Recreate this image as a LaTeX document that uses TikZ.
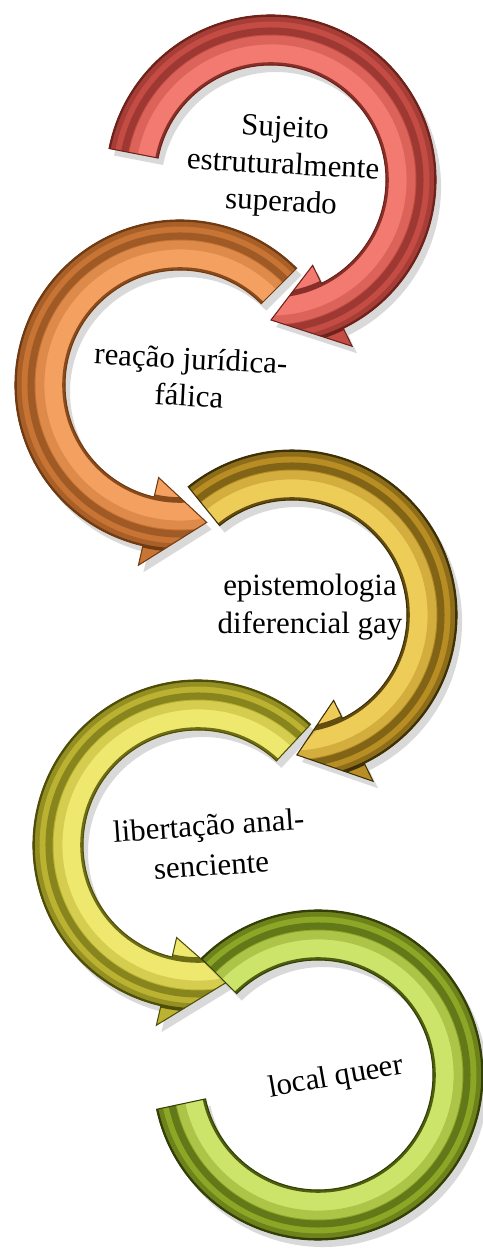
\documentclass[tikz,border=0pt]{standalone}
\usepackage{fontspec}
\setmainfont{Liberation Serif}
\usepackage{xcolor}
\usepackage{tikz}

\definecolor{redDark}{HTML}{6E221C}
\definecolor{redBase}{HTML}{C44C44}
\definecolor{redLight}{HTML}{F27A70}
\definecolor{orangeDark}{HTML}{703A12}
\definecolor{orangeBase}{HTML}{C87434}
\definecolor{orangeLight}{HTML}{F4A060}
\definecolor{goldDark}{HTML}{3E3006}
\definecolor{goldBase}{HTML}{B88E24}
\definecolor{goldLight}{HTML}{EECC58}
\definecolor{yellowDark}{HTML}{4E4E08}
\definecolor{yellowBase}{HTML}{BAB230}
\definecolor{yellowLight}{HTML}{EEE86E}
\definecolor{greenDark}{HTML}{323F06}
\definecolor{greenBase}{HTML}{8CA626}
\definecolor{greenLight}{HTML}{CCE46A}

\newcommand{\arrowshape}[3]{(#1:1.15) arc[start angle=#1, end angle=#2, radius=1.15]
-- (#2:0.95) -- (#3:1.4) -- (#2:1.85) -- (#2:1.65) arc[start angle=#2, end angle=#1, radius=1.65] -- cycle}

\newcommand{\ringbands}[1]{%
\fill[#1Base] (0,0) circle (2);
\fill[#1Light] (0,0) circle (1.40);
\draw[#1Base!50!#1Light, line width=2.5pt] (0,0) circle (1.40);
\draw[#1Dark!45!#1Base, line width=2pt] (0,0) circle (1.49);
\draw[#1Dark!35!#1Base, line width=2pt] (0,0) circle (1.62);
\draw[#1Dark, line width=1pt] (0,0) circle (1.65);
\draw[#1Dark!70!#1Base, line width=1.6pt] (0,0) circle (1.15);}

\newcommand{\ringarrow}[5]{%
\begin{scope}[shift={#1}]
\begin{scope}[shift={(0.05,-0.07)}]
\fill[ringshadow] \arrowshape{#2}{#3}{#4};
\end{scope}
\begin{scope}
\clip \arrowshape{#2}{#3}{#4};
\ringbands{#5}
\end{scope}
\draw[#5Dark, line width=0.3pt] \arrowshape{#2}{#3}{#4};
\end{scope}}

\begin{document}
\begin{tikzpicture}[ringtext/.style={font=\fontsize{8.8}{10.6}\selectfont, align=center, inner sep=0},
ringshadow/.style={fill=black, opacity=0.15}]
\useasboundingbox (0,0) rectangle (4.83,12.52);
\ringarrow{(2.71,10.72)}{169}{-64}{-90}{red}
\ringarrow{(1.80,8.67)}{45}{257}{281}{orange}
\ringarrow{(2.92,6.37)}{129}{-64}{-88}{gold}
\ringarrow{(1.98,4.07)}{47}{257}{282}{yellow}
%last ring has no head
\begin{scope}[shift={(3.18,1.77)}]
\fill[ringshadow, shift={(0.05,-0.07)}] (135:1.15) arc[start angle=135, end angle=-168, radius=1.15] -- (-168:1.65) arc[start angle=-168, end angle=135, radius=1.65] -- cycle;
\begin{scope}
\clip (135:1.15) arc[start angle=135, end angle=-168, radius=1.15] -- (-168:1.65) arc[start angle=-168, end angle=135, radius=1.65] -- cycle;
\ringbands{green}
\end{scope}
\draw[greenDark, line width=0.3pt] (135:1.15) arc[start angle=135, end angle=-168, radius=1.15] -- (-168:1.65) arc[start angle=-168, end angle=135, radius=1.65] -- cycle;
\end{scope}
\node[ringtext, rotate=-3] (sujeito) at (2.83,10.85) {Sujeito\\estruturalmente\\superado};
\node[ringtext, rotate=-3] (reacao) at (1.90,8.75) {reação jurídica-\\fálica};
\node[ringtext] (episteme) at (3.10,6.45) {epistemologia\\diferencial gay};
\node[ringtext, rotate=4, font=\fontsize{8.8}{11.4}\selectfont] (libertacao) at (2.10,4.07) {libertação anal-\\senciente};
\node[ringtext, rotate=10] (localq) at (3.36,1.74) {local queer};
\end{tikzpicture}
\end{document}
